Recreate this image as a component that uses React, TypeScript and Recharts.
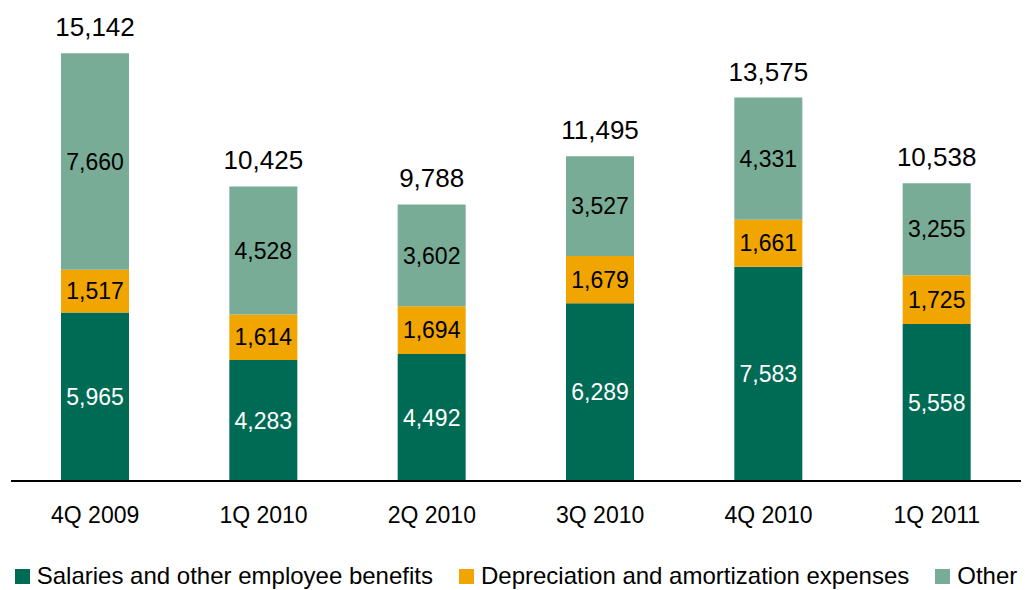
import { Bar, BarChart, LabelList, Legend, XAxis, YAxis } from 'recharts';

const quarters = ['4Q 2009', '1Q 2010', '2Q 2010', '3Q 2010', '4Q 2010', '1Q 2011'];
const salaries = [5965, 4283, 4492, 6289, 7583, 5558];
const depreciation = [1517, 1614, 1694, 1679, 1661, 1725];
const other = [7660, 4528, 3602, 3527, 4331, 3255];
const totals = [15142, 10425, 9788, 11495, 13575, 10538];

const seriesNames = [
  'Salaries and other employee benefits',
  'Depreciation and amortization expenses',
  'Other',
];
const colors = ['#006b55', '#f0a500', '#78ac96'];

const chartData = quarters.map((q, i) => ({
  quarter: q,
  salaries: salaries[i],
  depreciation: depreciation[i],
  other: other[i],
  total: totals[i],
}));

const fmt = (v: any) => Number(v).toLocaleString('en-US');

const font = 'Liberation Sans, Arial, sans-serif';

function LegendContent() {
  return (
    <div
      style={{
        display: 'flex',
        justifyContent: 'center',
        gap: 26,
        fontFamily: font,
        fontSize: 24,
        color: '#000',
        whiteSpace: 'nowrap',
      }}
    >
      {seriesNames.map((name, i) => (
        <div key={name} style={{ display: 'flex', alignItems: 'center' }}>
          <span
            style={{
              display: 'inline-block',
              width: 15,
              height: 15,
              background: colors[i],
              marginRight: 7,
            }}
          />
          {name}
        </div>
      ))}
    </div>
  );
}

export default function App() {
  return (
    <div style={{ position: 'absolute', left: 0, top: 0, background: '#fff' }}>
      <BarChart
        width={1025}
        height={590}
        data={chartData}
        margin={{ top: 29, right: 4, left: 11, bottom: 0 }}
        barCategoryGap={0}
      >
        <XAxis
          dataKey="quarter"
          axisLine={{ stroke: '#000', strokeWidth: 2 }}
          tickLine={false}
          tickSize={6}
          tickMargin={20}
          height={81}
          interval={0}
          tick={{ fill: '#000', fontSize: 23, fontFamily: font }}
        />
        <YAxis hide domain={[0, 16000]} />
        <Legend verticalAlign="bottom" height={28} content={<LegendContent />} />
        <Bar dataKey="salaries" stackId="a" fill={colors[0]} barSize={68} isAnimationActive={false}>
          <LabelList
            dataKey="salaries"
            position="center"
            formatter={fmt}
            fill="#fff"
            fontSize={23}
            fontFamily={font}
          />
        </Bar>
        <Bar dataKey="depreciation" stackId="a" fill={colors[1]} barSize={68} isAnimationActive={false}>
          <LabelList
            dataKey="depreciation"
            position="center"
            formatter={fmt}
            fill="#000"
            fontSize={23}
            fontFamily={font}
          />
        </Bar>
        <Bar dataKey="other" stackId="a" fill={colors[2]} barSize={68} isAnimationActive={false}>
          <LabelList
            dataKey="other"
            position="center"
            formatter={fmt}
            fill="#000"
            fontSize={23}
            fontFamily={font}
          />
          <LabelList
            dataKey="total"
            position="top"
            offset={17}
            formatter={fmt}
            fill="#000"
            fontSize={26}
            fontFamily={font}
          />
        </Bar>
      </BarChart>
    </div>
  );
}
